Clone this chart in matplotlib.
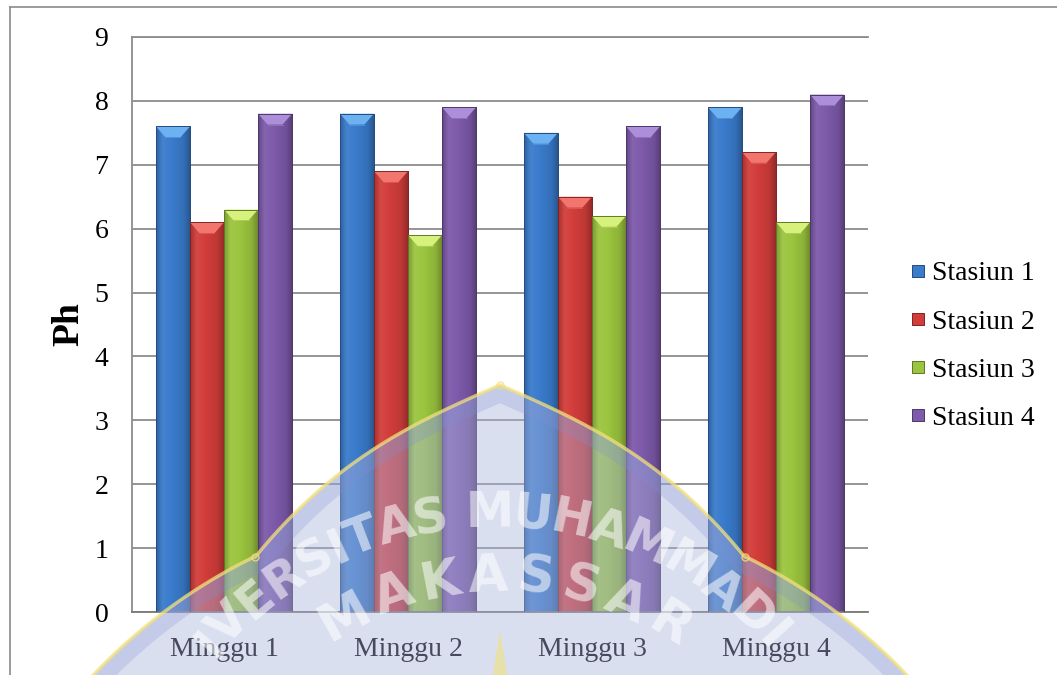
import numpy as np
import matplotlib
matplotlib.use("Agg")
import matplotlib.pyplot as plt
from matplotlib.colors import LinearSegmentedColormap, to_rgb
from matplotlib.patches import Polygon
from matplotlib.lines import Line2D

# ---- data ----
weeks = ["Minggu 1", "Minggu 2", "Minggu 3", "Minggu 4"]
stations = ["Stasiun 1", "Stasiun 2", "Stasiun 3", "Stasiun 4"]
stasiun_1 = [7.6, 7.8, 7.5, 7.9]
stasiun_2 = [6.1, 6.9, 6.5, 7.2]
stasiun_3 = [6.3, 5.9, 6.2, 6.1]
stasiun_4 = [7.8, 7.9, 7.6, 8.1]
y_ticks = [0, 1, 2, 3, 4, 5, 6, 7, 8, 9]

series = [stasiun_1, stasiun_2, stasiun_3, stasiun_4]
base_colors = ["#3a7bcc", "#d23d3a", "#9cc53f", "#7e5aab"]
top_colors = ["#6cb2f2", "#f2756e", "#d6f27c", "#ad8edb"]

SERIF = ["Liberation Serif", "DejaVu Serif"]
plt.rcParams["font.family"] = SERIF


def shade(c, f):
    rgb = np.array(to_rgb(c))
    if f < 1:
        return tuple(rgb * f)
    return tuple(rgb + (1 - rgb) * (f - 1))


W, H = 1057, 675
fig = plt.figure(figsize=(W / 100, H / 100), dpi=100)
fig.patch.set_facecolor("white")

ax = fig.add_axes([132 / W, 1 - 612 / H, (868 - 132) / W, (612 - 37) / H])

bar_w = 0.185
offsets = (np.arange(4) - 1.5) * bar_w
x = np.arange(len(weeks))
grad = np.linspace(0, 1, 64).reshape(1, -1)

for k, (vals, col, topc) in enumerate(zip(series, base_colors, top_colors)):
    dark = shade(col, 0.62)
    cmap = LinearSegmentedColormap.from_list(
        f"g{k}",
        [(0.0, shade(col, 0.78)), (0.18, shade(col, 1.06)), (0.45, shade(col, 1.0)),
         (0.8, shade(col, 0.9)), (1.0, shade(col, 0.68))])
    bars = ax.bar(x + offsets[k], vals, bar_w, facecolor="none",
                  edgecolor=dark, linewidth=0.7, zorder=3, label=stations[k])
    for b in bars:
        x0, w, h = b.get_x(), b.get_width(), b.get_height()
        im = ax.imshow(grad, extent=(x0, x0 + w, 0, h), aspect="auto",
                       cmap=cmap, origin="lower", zorder=2,
                       interpolation="bilinear")
        im.set_clip_path(b)
        d = 0.17
        bevel = Polygon([(x0, h), (x0 + w, h), (x0 + w * 0.72, h - d),
                         (x0 + w * 0.28, h - d)], closed=True,
                        facecolor=topc, edgecolor="none", zorder=2.5)
        ax.add_patch(bevel)
        ax.plot([x0 + w * 0.28, x0 + w * 0.72], [h - d, h - d],
                color=shade(col, 1.15), lw=0.6, zorder=2.6)

ax.set_xlim(-0.5, 3.5)
ax.set_ylim(0, 9)
ax.set_yticks(y_ticks)
ax.set_xticks(x)
ax.set_xticklabels(weeks)
ax.yaxis.grid(True, color="#8c8c8c", linewidth=1.3)
ax.set_axisbelow(True)
for side in ["left", "bottom", "top"]:
    ax.spines[side].set_color("#8c8c8c")
    ax.spines[side].set_linewidth(1.3)
ax.spines["bottom"].set_color("#7a7a7a")
ax.spines["right"].set_visible(False)
ax.tick_params(axis="both", length=0, labelsize=20)
ax.tick_params(axis="y", pad=17)
ax.tick_params(axis="x", pad=18)
ax.set_ylabel("Ph", fontsize=27, fontweight="bold", labelpad=6)

handles = [Line2D([], [], marker="s", linestyle="none", markersize=9,
                  markerfacecolor=c, markeredgecolor=shade(c, 0.6),
                  markeredgewidth=0.7) for c in base_colors]
fig.legend(handles, stations, loc="center left",
           bbox_to_anchor=(908 / W, 1 - 346 / H), frameon=False,
           prop={"family": SERIF, "size": 20}, handletextpad=0.15,
           labelspacing=0.82, handlelength=0.7, borderaxespad=0, borderpad=0)

# outer frame
fig.add_artist(Line2D([10 / W, 10 / W], [0, 1 - 7 / H], transform=fig.transFigure,
                      color="#8a8a8a", linewidth=1.2))
fig.add_artist(Line2D([10 / W, 1], [1 - 7 / H, 1 - 7 / H], transform=fig.transFigure,
                      color="#8a8a8a", linewidth=1.2))

# ---- watermark emblem (pixel coordinates, y downward) ----
wm = fig.add_axes([0, 0, 1, 1], zorder=5)
wm.set_xlim(0, W)
wm.set_ylim(H, 0)
wm.axis("off")
wm.patch.set_alpha(0)

cx, apex = 500.0, 385.0
ring_c, ring_r = (500.0, 1060.0), 560.0

# left half of the pointed dome, running down from the apex
ddx = np.linspace(0, 320, 400)
ddy = 0.438 * ddx + 4.42e-6 * ddx ** 3
dlx, dly = cx - ddx, apex + ddy
dist = np.hypot(dlx - ring_c[0], dly - ring_c[1])
cut = np.argmax(dist <= ring_r)
dlx, dly = dlx[:cut + 1], dly[:cut + 1]

# ring from the dome junction down past the bottom edge
u_knot = np.arctan2(dly[-1] - ring_c[1], dlx[-1] - ring_c[0])
u_low = -np.pi - np.arcsin((H + 15 - ring_c[1]) / ring_r)
u = np.linspace(u_low, u_knot, 200)
rlx = ring_c[0] + ring_r * np.cos(u)
rly = ring_c[1] + ring_r * np.sin(u)

left_x = np.concatenate([rlx, dlx[::-1]])
left_y = np.concatenate([rly, dly[::-1]])
edge_x = np.concatenate([left_x, 2 * cx - left_x[::-1]])
edge_y = np.concatenate([left_y, left_y[::-1]])

emblem = Polygon(np.column_stack([edge_x, edge_y]), closed=True,
                 facecolor="#a9b3dd", edgecolor="none", alpha=0.42)
wm.add_patch(emblem)
band, = wm.plot(edge_x, edge_y, color="#7f90d2", lw=24, alpha=0.25,
                solid_capstyle="butt")
band.set_clip_path(emblem)
wm.plot(edge_x, edge_y, color="#f3e17a", lw=2.5, alpha=0.75)
for kx in (dlx[-1], 2 * cx - dlx[-1]):
    wm.plot(kx, dly[-1], "o", ms=5, mfc="none", mec="#f3e17a", alpha=0.8)
wm.plot(cx, apex, "o", ms=5, mfc="none", mec="#f3e17a", alpha=0.8)
wm.add_patch(Polygon([(cx, 630), (cx - 7, H), (cx + 7, H)], closed=True,
                     facecolor="#f3e17a", edgecolor="none", alpha=0.6))

# approximate advance widths (in em) of the emblem lettering
ADV = {"M": 0.86, "U": 0.73, "H": 0.75, "A": 0.68, "S": 0.63, "I": 0.29,
       "T": 0.61, "R": 0.69, "E": 0.63, "N": 0.75, "V": 0.68, "D": 0.77,
       "Y": 0.61, "K": 0.66, " ": 0.32}


def arc_text(s, ccx, ccy, r, mid_ang, size, track):
    em = size * 100 / 72
    adv = np.array([ADV[c] + track for c in s]) * em
    centers = np.cumsum(adv) - adv / 2
    centers -= (centers[0] + centers[-1]) / 2
    for ch, c in zip(s, centers):
        ang = mid_ang - np.rad2deg(c / r)
        a = np.deg2rad(ang)
        px, py = ccx + r * np.cos(a), ccy - r * np.sin(a)
        if ch == " " or py > H - 24:
            continue
        wm.text(px, py, ch, fontsize=size, color="white", alpha=0.55,
                family="DejaVu Sans", fontweight="bold",
                ha="center", va="center",
                rotation=ang - 90, rotation_mode="anchor")


arc_text("UNIVERSITAS MUHAMMADIYAH", 495, 887, 374, 88.4, 35, 0.08)
arc_text("MAKASSAR", 500, 896, 319, 88.5, 37, 0.27)

fig.savefig("out.png", dpi=100)
